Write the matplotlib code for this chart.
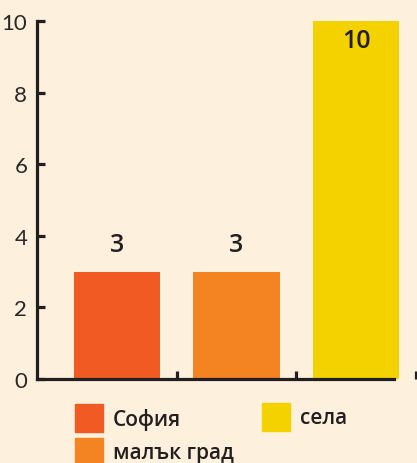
import matplotlib
matplotlib.use("Agg")
import matplotlib.pyplot as plt
from matplotlib.patches import Rectangle

categories = ["София", "малък град", "села"]
values = [3, 3, 10]
colors = ["#F15A22", "#F48322", "#F4D200"]
yticks = [0, 2, 4, 6, 8, 10]

BG = "#FDF0DC"
INK = "#231F20"
TICKFONT = ["Lato", "DejaVu Sans"]
FONT = ["Open Sans", "DejaVu Sans"]

W, H = 417, 464
fig = plt.figure(figsize=(W / 100, H / 100), dpi=100, facecolor=BG)
ax = fig.add_axes([37 / W, 84 / H, 379 / W, 358 / H], facecolor=BG)

x = list(range(len(categories)))
ax.bar(x, values, width=0.72, color=colors, zorder=2)

ax.set_xlim(-0.667, 2.5)
ax.set_ylim(0, 10)

for s in ["top", "right"]:
    ax.spines[s].set_visible(False)
for s in ["left", "bottom"]:
    ax.spines[s].set_color(INK)
    ax.spines[s].set_linewidth(2.3)
    ax.spines[s].set_zorder(3)
ax.spines["bottom"].set_bounds(-0.667, 2.317)

ax.set_yticks(yticks)
ax.set_yticklabels([str(t) for t in yticks], fontsize=16, color="#2b2728",
                   family=TICKFONT, fontweight="normal")
ax.tick_params(axis="y", direction="in", length=6, width=2.3, color=INK, pad=7)
ax.set_xticks([0.5, 1.5, 2.5])
ax.set_xticklabels([])
ax.tick_params(axis="x", direction="in", length=6, width=2.3, color=INK)
for t in ax.xaxis.get_major_ticks():
    t.tick1line.set_clip_on(False)

for xi, v in zip(x, values):
    yl = v + 0.75 if v < 9 else v - 0.55
    ax.text(xi, yl, str(v), ha="center", va="center", fontsize=18,
            fontweight="semibold", color=INK, family=FONT, zorder=4)

# legend (manual, figure pixel coordinates)
leg_pos = [(75, 405), (75, 439), (262, 404)]
for (lx, ly), lab, c in zip(leg_pos, categories, colors):
    fig.add_artist(Rectangle((lx / W, 1 - (ly + 28) / H), 28 / W, 28 / H,
                             transform=fig.transFigure, color=c))
    fig.text((lx + 38) / W, 1 - (ly + 15) / H, lab, ha="left", va="center",
             fontsize=15, fontweight="semibold", color=INK, family=FONT)

fig.savefig("out.png", dpi=100, facecolor=BG)
